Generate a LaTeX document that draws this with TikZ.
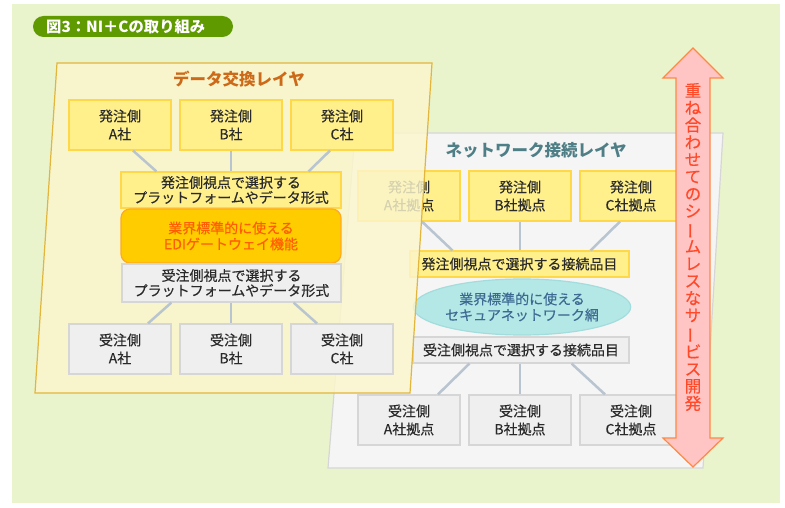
\documentclass[tikz,border=0pt]{standalone}
\usepackage{fontspec}
\usepackage{graphicx}
\setmainfont{Noto Sans CJK JP}
\newfontfamily\bodyfont{Noto Sans CJK JP}[FakeBold=0.35]
\usetikzlibrary{calc,shapes.geometric}
\definecolor{bggreen}{HTML}{EAF4CC}
\definecolor{pillgreen}{HTML}{5E9A00}
\definecolor{dlfill}{HTML}{FCF6CC}
\definecolor{dlline}{HTML}{E2B53C}
\definecolor{dltitle}{HTML}{CC6A1A}
\definecolor{yfill}{HTML}{FFF08C}
\definecolor{yline}{HTML}{FFD84A}
\definecolor{edifill}{HTML}{FFCC00}
\definecolor{ediline}{HTML}{FFAA22}
\definecolor{editext}{HTML}{FF5E00}
\definecolor{gfill}{HTML}{EFEFEF}
\definecolor{gline}{HTML}{D6D6D6}
\definecolor{connc}{HTML}{B8C4D0}
\definecolor{nlfill}{HTML}{F5F5F5}
\definecolor{nlline}{HTML}{D6D6D6}
\definecolor{nltitle}{HTML}{4F7F86}
\definecolor{ellfill}{HTML}{B4E8E6}
\definecolor{ellline}{HTML}{A3DCDC}
\definecolor{elltext}{HTML}{3D6A92}
\definecolor{arrpink}{HTML}{FFC4C4}
\definecolor{arrline}{HTML}{FF8844}
\definecolor{arrtext}{HTML}{FF4A2A}
\definecolor{txt}{HTML}{2A2A2A}
\tikzset{
  box/.style={draw, line width=1.2pt, minimum width=102pt, minimum height=50pt, inner sep=0pt, align=center, text=txt, font=\bodyfont\fontsize{14}{18}\selectfont},
  ybox/.style={box, fill=yfill, draw=yline},
  gbox/.style={box, fill=gfill, draw=gline},
  selbox/.style={draw, line width=1.2pt, inner sep=0pt, align=center, text=txt, font=\bodyfont\fontsize{14}{15}\selectfont},
  conn/.style={draw=connc, line width=2.5pt},
  layertitle/.style={font=\fontsize{16.5}{18}\selectfont\bfseries, inner sep=0pt},
}
\newcommand{\vbar}{\rotatebox[origin=c]{90}{ー}}
\begin{document}
\begin{tikzpicture}[x=1pt,y=-1pt]
\useasboundingbox (0,0) rectangle (785,508);
\fill[white] (0,0) rectangle (785,508);
\fill[bggreen] (12,4) rectangle (780,503);
% title pill
\node[fill=pillgreen, rounded corners=10.5pt, minimum width=200pt, minimum height=21pt, inner sep=0pt] (pill) at (133,26.5) {};
\node[anchor=west, text=white, font=\fontsize{15.3}{16}\selectfont\bfseries, inner sep=0pt] (pilltext) at (46,26.5) {図3：NI＋Cの取り組み};

% ===== network layer =====
\fill[nlfill] (355,133) -- (723,133) -- (703,468) -- (328,468) -- cycle;
\draw[nlline, line width=1.2pt] (355,133) -- (723,133) -- (703,468) -- (328,468) -- cycle;
\node[layertitle, text=nltitle] (nltitle) at (536,150) {ネットワーク接続レイヤ};
\node[ybox] (nA) at (409,196) {発注側\\A社拠点};
\node[ybox] (nB) at (520,196) {発注側\\B社拠点};
\node[ybox] (nC) at (631,196) {発注側\\C社拠点};
\node[selbox, fill=yfill, draw=yline, minimum width=219pt, minimum height=26pt] (nsel1) at (519.5,264) {発注側視点で選択する接続品目};
\node[ellipse, fill=ellfill, draw=ellline, line width=1.2pt, minimum width=213pt, minimum height=56pt, inner sep=0pt, align=center, text=elltext, font=\bodyfont\fontsize{14}{16}\selectfont] (nell) at (522,307) {業界標準的に使える\\セキュアネットワーク網};
\node[selbox, fill=gfill, draw=gline, minimum width=216pt, minimum height=26pt] (nsel2) at (521,350) {受注側視点で選択する接続品目};
\node[gbox] (nD) at (409,420) {受注側\\A社拠点};
\node[gbox] (nE) at (520,420) {受注側\\B社拠点};
\node[gbox] (nF) at (631,420) {受注側\\C社拠点};
\draw[conn] ($(nA.south)+(13,0)$) -- ($(nsel1.north west)+(43,0)$);
\draw[conn] (nB.south) -- (nB.south |- nsel1.north);
\draw[conn] ($(nC.south)+(-11,0)$) -- ($(nsel1.north east)+(-39,0)$);
\draw[conn] ($(nsel2.south west)+(57,0)$) -- ($(nD.north)+(29,0)$);
\draw[conn] (nsel2.south -| nE.north) -- (nE.north);
\draw[conn] ($(nsel2.south east)+(-58,0)$) -- ($(nF.north)+(-26,0)$);

% ===== data exchange layer =====
\fill[dlfill, opacity=0.82] (57,63) -- (432,63) -- (410,393) -- (35,393) -- cycle;
\draw[dlline, line width=1.2pt] (57,63) -- (432,63) -- (410,393) -- (35,393) -- cycle;
\node[layertitle, text=dltitle] (dltitle) at (239,79) {データ交換レイヤ};
\node[ybox] (dA) at (120,125) {発注側\\A社};
\node[ybox] (dB) at (231,125) {発注側\\B社};
\node[ybox] (dC) at (342,125) {発注側\\C社};
\node[selbox, fill=yfill, draw=yline, minimum width=220pt, minimum height=36pt] (dsel1) at (231,190) {発注側視点で選択する\\プラットフォームやデータ形式};
\node[selbox, fill=edifill, draw=ediline, rounded corners=9pt, minimum width=220pt, minimum height=54pt, text=editext, font=\bodyfont\fontsize{14}{16}\selectfont] (dedi) at (231,236) {業界標準的に使える\\EDIゲートウェイ機能};
\node[selbox, fill=gfill, draw=gline, minimum width=219pt, minimum height=38pt] (dsel2) at (231.5,283) {受注側視点で選択する\\プラットフォームやデータ形式};
\node[gbox] (dD) at (120,349) {受注側\\A社};
\node[gbox] (dE) at (231,349) {受注側\\B社};
\node[gbox] (dF) at (342,349) {受注側\\C社};
\draw[conn] ($(dA.south)+(13,0)$) -- ($(dsel1.north west)+(36,0)$);
\draw[conn] (dB.south) -- (dB.south |- dsel1.north);
\draw[conn] ($(dC.south)+(-12,0)$) -- ($(dsel1.north east)+(-33,0)$);
\draw[conn] ($(dsel2.south west)+(50,0)$) -- ($(dD.north)+(28,0)$);
\draw[conn] (dsel2.south -| dE.north) -- (dE.north);
\draw[conn] ($(dsel2.south east)+(-48,0)$) -- ($(dF.north)+(-25,0)$);

% ===== double arrow =====
\shade[top color=arrpink, middle color=white, bottom color=arrpink]
  (693,48) -- (723,78) -- (710,78) -- (710,438) -- (723,438) -- (693,467) -- (663,438) -- (676,438) -- (676,78) -- (663,78) -- cycle;
\draw[arrline, line width=1.2pt, line join=miter]
  (693,48) -- (723,78) -- (710,78) -- (710,438) -- (723,438) -- (693,467) -- (663,438) -- (676,438) -- (676,78) -- (663,78) -- cycle;
\node[align=center, inner sep=0pt, text=arrtext, font=\bodyfont\fontsize{16.5}{17.2}\selectfont] (arrtxt) at (693,247)
  {重\\ね\\合\\わ\\せ\\て\\の\\シ\\\vbar\\ム\\レ\\ス\\な\\サ\\\vbar\\ビ\\ス\\開\\発};
\end{tikzpicture}
\end{document}
